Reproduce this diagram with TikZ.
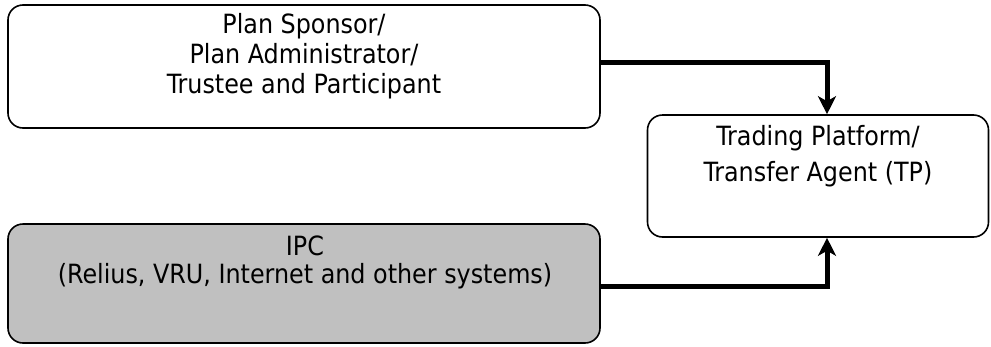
\documentclass[tikz,border=0pt]{standalone}
\usepackage{fontspec}
\setmainfont{DejaVu Sans Condensed}
\usetikzlibrary{arrows.meta}
\definecolor{boxgray}{HTML}{C0C0C0}
\tikzset{
  box/.style={draw=black, line width=1.6pt, rounded corners=15pt, inner sep=0pt},
  label/.style={font=\fontsize{26.5}{30}\selectfont, text=black, align=center, inner sep=0pt, anchor=base},
  flow/.style={line width=5pt, -{Stealth[length=18pt,width=18pt,inset=5pt]}}
}
\begin{document}
\begin{tikzpicture}[x=1pt,y=-1pt]
  \useasboundingbox (0,0) rectangle (991,346);
  % three boxes
  \node[box, minimum width=592pt, minimum height=123pt] (sponsor) at (304,66.5) {};
  \node[box, fill=boxgray, minimum width=592pt, minimum height=119pt] (ipc) at (304,283.5) {};
  \node[box, minimum width=341pt, minimum height=122pt] (tp) at (818,176) {};
  % box texts
  \node[label] (t1) at (304,33) {Plan Sponsor/};
  \node[label] (t2) at (304,63) {Plan Administrator/};
  \node[label] (t3) at (304,93) {Trustee and Participant};
  \node[label] (t4) at (818,145) {Trading Platform/};
  \node[label] (t5) at (818,181) {Transfer Agent (TP)};
  \node[label] (t6) at (305,255) {IPC};
  \node[label] (t7) at (305,283) {(Relius, VRU, Internet and other systems)};
  % connectors into the TP box
  \coordinate (tpin) at ([xshift=9pt]tp.north);
  \coordinate (tpout) at ([xshift=9pt]tp.south);
  \draw[flow] (sponsor.east |- 0,62) -| (tpin);
  \draw[flow] (ipc.east |- 0,286) -| (tpout);
\end{tikzpicture}
\end{document}
